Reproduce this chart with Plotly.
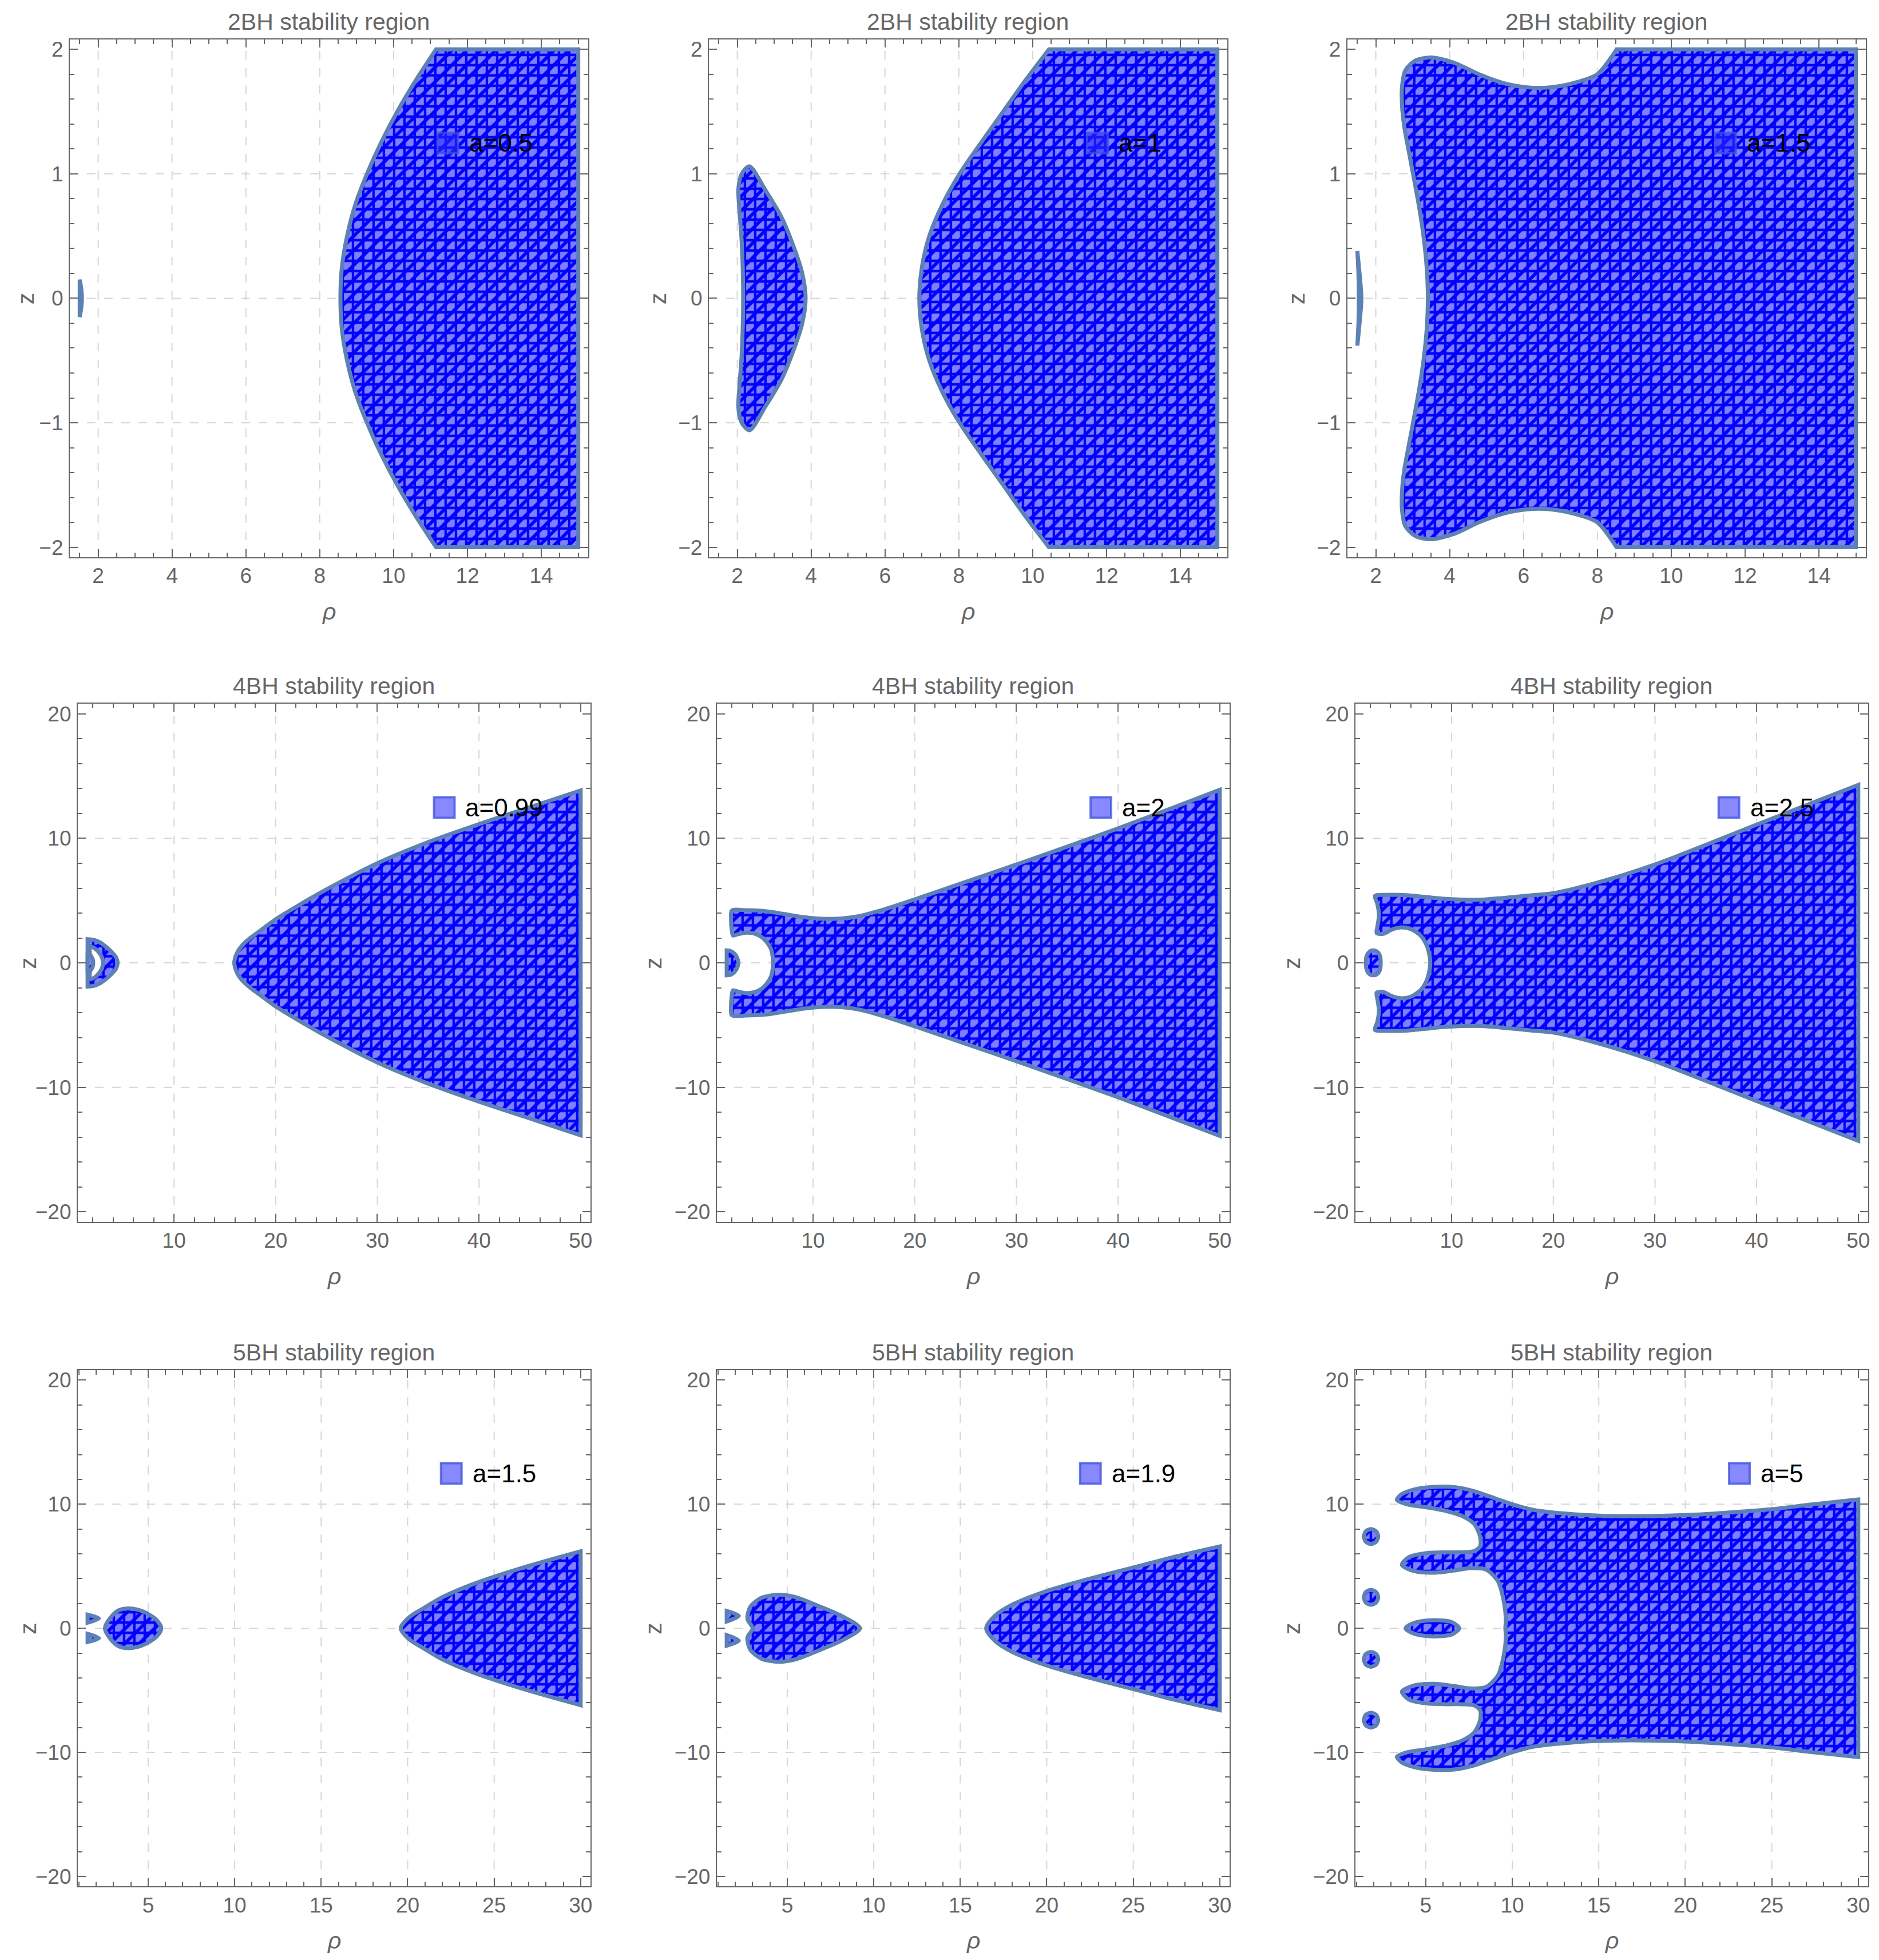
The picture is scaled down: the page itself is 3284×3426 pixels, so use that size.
import plotly.graph_objects as go

# ---------------- data (rho, z boundary points) ----------------
# Row 1 : 2BH
bh2_a05_sliver_rho = [1.50, 1.54, 1.56, 1.54, 1.50]
bh2_a05_sliver_z = [0.15, 0.08, 0.0, -0.08, -0.15]
bh2_a05_main_rho = [15, 11.15, 10.6, 10.1, 9.66, 9.28, 8.96, 8.74, 8.6, 8.56, 8.6, 8.74, 8.96, 9.28, 9.66, 10.1, 10.6, 11.15, 15]
bh2_a05_main_z = [2, 2, 1.75, 1.5, 1.25, 1.0, 0.75, 0.5, 0.25, 0.0, -0.25, -0.5, -0.75, -1.0, -1.25, -1.5, -1.75, -2, -2]

bh2_a1_bean_rho = [2.33, 2.76, 3.2, 3.52, 3.76, 3.85, 3.76, 3.52, 3.2, 2.76, 2.33, 2.12, 2.03, 2.06, 2.12, 2.16, 2.12, 2.06, 2.03, 2.12]
bh2_a1_bean_z = [1.06, 0.87, 0.65, 0.42, 0.2, 0.0, -0.2, -0.42, -0.65, -0.87, -1.06, -1.0, -0.88, -0.7, -0.45, 0.0, 0.45, 0.7, 0.88, 1.0]
bh2_a1_main_rho = [15, 10.44, 9.8, 9.2, 8.6, 8.02, 7.55, 7.2, 7.0, 6.93, 7.0, 7.2, 7.55, 8.02, 8.6, 9.2, 9.8, 10.44, 15]
bh2_a1_main_z = [2, 2, 1.75, 1.5, 1.25, 1.0, 0.75, 0.5, 0.25, 0.0, -0.25, -0.5, -0.75, -1.0, -1.25, -1.5, -1.75, -2, -2]

bh2_a15_sliver_rho = [1.50, 1.56, 1.61, 1.56, 1.50, 1.53, 1.54, 1.53]
bh2_a15_sliver_z = [0.38, 0.2, 0.0, -0.2, -0.38, -0.2, 0.0, 0.2]
bh2_a15_main_rho = [15, 8.52, 8.0, 7.36, 6.72, 6.1, 5.45, 4.79, 4.14, 3.5, 3.07, 2.8, 2.71, 2.71, 2.77, 2.9, 3.04, 3.18, 3.3, 3.38, 3.41,
                    3.38, 3.3, 3.18, 3.04, 2.9, 2.77, 2.71, 2.71, 2.8, 3.07, 3.5, 4.14, 4.79, 5.45, 6.1, 6.72, 7.36, 8.0, 8.52, 15]
bh2_a15_main_z = [2, 2, 1.8, 1.73, 1.695, 1.695, 1.73, 1.8, 1.89, 1.935, 1.91, 1.83, 1.7, 1.55, 1.38, 1.17, 0.95, 0.72, 0.48, 0.24, 0.0,
                  -0.24, -0.48, -0.72, -0.95, -1.17, -1.38, -1.55, -1.7, -1.83, -1.91, -1.935, -1.89, -1.8, -1.73, -1.695, -1.695, -1.73, -1.8, -2, -2]

# Row 2 : 4BH
bh4_a099_outer_rho = [1.5, 2.1, 2.7, 3.3, 3.9, 4.3, 4.45, 4.3, 3.9, 3.3, 2.7, 2.1, 1.5]
bh4_a099_outer_z = [1.9, 1.85, 1.65, 1.3, 0.85, 0.45, 0.0, -0.45, -0.85, -1.3, -1.65, -1.85, -1.9]
bh4_a099_hole_rho = [1.8, 2.3, 2.7, 2.95, 3.0, 2.95, 2.7, 2.3, 1.8, 1.75]
bh4_a099_hole_z = [1.3, 1.1, 0.75, 0.35, 0.0, -0.35, -0.75, -1.1, -1.3, 0.0]
bh4_a099_inner_rho = [1.5, 1.8, 2.0, 2.05, 2.0, 1.8, 1.5]
bh4_a099_inner_z = [0.8, 0.6, 0.3, 0.0, -0.3, -0.6, -0.8]
bh4_a099_main_rho = [15.93, 16.2, 16.7, 17.5, 18.5, 20, 22, 25, 30, 35, 40, 45, 50,
                     50, 45, 40, 35, 30, 25, 22, 20, 18.5, 17.5, 16.7, 16.2]
bh4_a099_main_z = [0.0, 0.8, 1.4, 2.0, 2.6, 3.5, 4.5, 5.9, 8.0, 9.7, 11.15, 12.5, 13.85,
                   -13.85, -12.5, -11.15, -9.7, -8.0, -5.9, -4.5, -3.5, -2.6, -2.0, -1.4, -0.8]

bh4_a2_small_rho = [1.5, 1.9, 2.25, 2.5, 2.65, 2.5, 2.25, 1.9, 1.5]
bh4_a2_small_z = [1.0, 0.95, 0.75, 0.45, 0.0, -0.45, -0.75, -0.95, -1.0]
bh4_a2_main_rho = [50, 40, 30, 25, 20, 17, 14.5, 12.8, 10.94, 9.06, 7.19, 5.31, 3.43, 2.0, 1.93, 2.0, 2.12, 2.68, 3.43, 4.18, 4.93, 5.5, 5.87, 6.02, 6.06,
                   6.02, 5.87, 5.5, 4.93, 4.18, 3.43, 2.68, 2.12, 2.0, 1.93, 2.0, 3.43, 5.31, 7.19, 9.06, 10.94, 12.8, 14.5, 17, 20, 25, 30, 40, 50]
bh4_a2_main_z = [13.9, 10.8, 7.9, 6.5, 5.1, 4.3, 3.75, 3.56, 3.54, 3.68, 3.92, 4.15, 4.23, 4.2, 3.5, 2.6, 2.2, 2.32, 2.43, 2.36, 2.08, 1.6, 1.08, 0.5, 0.0,
                 -0.5, -1.08, -1.6, -2.08, -2.36, -2.43, -2.32, -2.2, -2.6, -3.5, -4.2, -4.23, -4.15, -3.92, -3.68, -3.54, -3.56, -3.75, -4.3, -5.1, -6.5, -7.9, -10.8, -13.9]

bh4_a25_small_rho = [1.56, 1.62, 1.8, 2.05, 2.29, 2.55, 2.8, 2.97, 3.02, 2.97, 2.8, 2.55, 2.29, 2.05, 1.8, 1.62]
bh4_a25_small_z = [0.0, 0.5, 0.8, 0.97, 1.0, 0.96, 0.8, 0.5, 0.0, -0.5, -0.8, -0.96, -1.0, -0.97, -0.8, -0.5]
bh4_a25_main_rho = [50, 40, 30, 25, 20, 17.7, 14.9, 13.0, 11.13, 9.25, 7.37, 5.5, 3.62, 2.45, 2.68, 2.85, 2.7, 2.62, 3.25, 4.18, 5.1, 6.06, 6.99, 7.56, 7.84, 7.9,
                    7.84, 7.56, 6.99, 6.06, 5.1, 4.18, 3.25, 2.62, 2.7, 2.85, 2.68, 2.45, 3.62, 5.5, 7.37, 9.25, 11.13, 13.0, 14.9, 17.7, 20, 25, 30, 40, 50]
bh4_a25_main_z = [14.3, 11.1, 7.9, 6.6, 5.6, 5.42, 5.2, 5.08, 5.08, 5.15, 5.3, 5.44, 5.46, 5.38, 4.77, 3.85, 2.92, 2.4, 2.33, 2.69, 2.85, 2.69, 2.15, 1.38, 0.5, 0.0,
                  -0.5, -1.38, -2.15, -2.69, -2.85, -2.69, -2.33, -2.4, -2.92, -3.85, -4.77, -5.38, -5.46, -5.44, -5.3, -5.15, -5.08, -5.08, -5.2, -5.42, -5.6, -6.6, -7.9, -11.1, -14.3]

# Row 3 : 5BH
bh5_a15_tri_up_rho = [1.5, 2.15, 1.5]
bh5_a15_tri_up_z = [1.1, 0.8, 0.45]
bh5_a15_tri_dn_rho = [1.5, 2.15, 1.5]
bh5_a15_tri_dn_z = [-1.1, -0.8, -0.45]
bh5_a15_blob_rho = [2.5, 2.85, 3.3, 3.8, 4.4, 5.0, 5.5, 5.76, 5.5, 5.0, 4.4, 3.8, 3.3, 2.85]
bh5_a15_blob_z = [0.0, 0.9, 1.45, 1.6, 1.5, 1.15, 0.65, 0.0, -0.65, -1.15, -1.5, -1.6, -1.45, -0.9]
bh5_a15_main_rho = [19.6, 20.1, 20.9, 22, 23.86, 26.7, 30, 30, 26.7, 23.86, 22, 20.9, 20.1]
bh5_a15_main_z = [0.0, 0.9, 1.6, 2.5, 3.6, 4.9, 6.2, -6.2, -4.9, -3.6, -2.5, -1.6, -0.9]

bh5_a19_tri_up_rho = [1.5, 2.2, 1.5]
bh5_a19_tri_up_z = [1.4, 1.0, 0.55]
bh5_a19_tri_dn_rho = [1.5, 2.2, 1.5]
bh5_a19_tri_dn_z = [-1.4, -1.0, -0.55]
bh5_a19_blob_rho = [3.0, 2.7, 2.85, 3.5, 4.5, 5.5, 6.8, 8.2, 9.2, 8.2, 6.8, 5.5, 4.5, 3.5, 2.85, 2.7]
bh5_a19_blob_z = [0.0, 0.75, 1.7, 2.45, 2.7, 2.5, 1.8, 0.95, 0.0, -0.95, -1.8, -2.5, -2.7, -2.45, -1.7, -0.75]
bh5_a19_main_rho = [16.5, 17, 18, 20, 22.5, 25, 27.5, 30, 30, 27.5, 25, 22.5, 20, 18, 17]
bh5_a19_main_z = [0.0, 1.0, 1.9, 3.0, 4.0, 4.9, 5.8, 6.6, -6.6, -5.8, -4.9, -4.0, -3.0, -1.9, -1.0]

bh5_a5_dot1_rho = [1.41, 1.53, 1.83, 2.13, 2.25, 2.13, 1.83, 1.53]
bh5_a5_dot1_z = [7.4, 7.82, 8.0, 7.82, 7.4, 6.98, 6.8, 6.98]
bh5_a5_dot2_rho = [1.41, 1.53, 1.83, 2.13, 2.25, 2.13, 1.83, 1.53]
bh5_a5_dot2_z = [2.5, 2.92, 3.1, 2.92, 2.5, 2.08, 1.9, 2.08]
bh5_a5_dot3_rho = [1.41, 1.53, 1.83, 2.13, 2.25, 2.13, 1.83, 1.53]
bh5_a5_dot3_z = [-2.5, -2.08, -1.9, -2.08, -2.5, -2.92, -3.1, -2.92]
bh5_a5_dot4_rho = [1.41, 1.53, 1.83, 2.13, 2.25, 2.13, 1.83, 1.53]
bh5_a5_dot4_z = [-7.4, -6.98, -6.8, -6.98, -7.4, -7.82, -8.0, -7.82]
bh5_a5_lens_rho = [3.83, 4.3, 5.0, 5.8, 6.5, 6.93, 6.5, 5.8, 5.0, 4.3]
bh5_a5_lens_z = [0.0, 0.42, 0.62, 0.64, 0.5, 0.0, -0.5, -0.64, -0.62, -0.42]
bh5_a5_main_rho = [30, 27.3, 25.0, 22.7, 20.4, 18.1, 15.8, 13.5, 11.2, 10.1, 8.95, 7.8, 6.65, 5.5, 4.36, 3.6, 3.33, 3.9, 5.05, 6.19, 7.1, 7.8, 8.14, 8.14,
                   7.8, 7.1, 6.19, 5.05, 4.0, 3.62, 4.36, 5.5, 6.65, 7.57, 8.49, 9.17, 9.52, 9.63, 9.6,
                   9.63, 9.52, 9.17, 8.49, 7.57, 6.65, 5.5, 4.36, 3.62, 4.0, 5.05, 6.19, 7.1, 7.8,
                   8.14, 8.14, 7.8, 7.1, 6.19, 5.05, 3.9, 3.33, 3.6, 4.36, 5.5, 6.65, 7.8, 8.95, 10.1, 11.2, 13.5, 15.8, 18.1, 20.4, 22.7, 25.0, 27.3, 30]
bh5_a5_main_z = [10.38, 9.98, 9.6, 9.35, 9.15, 9.05, 9.05, 9.2, 9.55, 9.95, 10.5, 11.05, 11.38, 11.4, 11.2, 10.8, 10.35, 10.0, 9.75, 9.45, 9.05, 8.4, 7.4, 6.6,
                 6.22, 6.12, 6.12, 6.06, 5.72, 5.1, 4.6, 4.48, 4.66, 4.85, 4.73, 3.8, 2.1, 0.7, 0.0,
                 -0.7, -2.1, -3.8, -4.73, -4.85, -4.66, -4.48, -4.6, -5.1, -5.72, -6.06, -6.12, -6.12, -6.22,
                 -6.6, -7.4, -8.4, -9.05, -9.45, -9.75, -10.0, -10.35, -10.8, -11.2, -11.4, -11.38, -11.05, -10.5, -9.95, -9.55, -9.2, -9.05, -9.05, -9.15, -9.35, -9.6, -9.98, -10.38]

# titles / legend labels
titles = ["2BH stability region"] * 3 + ["4BH stability region"] * 3 + ["5BH stability region"] * 3
legend_labels = ["a=0.5", "a=1", "a=1.5", "a=0.99", "a=2", "a=2.5", "a=1.5", "a=1.9", "a=5"]

# data extents per row (rho_min, rho_max, z_min, z_max)
row_extent = [(1.5, 15, -2, 2), (1.5, 50, -20, 20), (1.5, 30, -20, 20)]
# ticks
row_xticks = [[2, 4, 6, 8, 10, 12, 14], [10, 20, 30, 40, 50], [5, 10, 15, 20, 25, 30]]
row_yticks = [[-2, -1, 0, 1, 2], [-20, -10, 0, 10, 20], [-20, -10, 0, 10, 20]]
row_xminor = [0.5, 2, 1]
row_yminor = [0.2, 2, 2]
row_xgrid = [[2, 4, 6, 8, 10, 12, 14], [10, 20, 30, 40], [5, 10, 15, 20, 25]]
row_ygrid = [[-1, 0, 1], [-10, 0, 10], [-10, 0, 10]]

panel_regions = [
    [("fill", bh2_a05_sliver_rho, bh2_a05_sliver_z), ("fill", bh2_a05_main_rho, bh2_a05_main_z)],
    [("fill", bh2_a1_bean_rho, bh2_a1_bean_z), ("fill", bh2_a1_main_rho, bh2_a1_main_z)],
    [("fill", bh2_a15_sliver_rho, bh2_a15_sliver_z), ("fill", bh2_a15_main_rho, bh2_a15_main_z)],
    [("fill", bh4_a099_outer_rho, bh4_a099_outer_z), ("hole", bh4_a099_hole_rho, bh4_a099_hole_z),
     ("fill", bh4_a099_inner_rho, bh4_a099_inner_z), ("fill", bh4_a099_main_rho, bh4_a099_main_z)],
    [("fill", bh4_a2_small_rho, bh4_a2_small_z), ("fill", bh4_a2_main_rho, bh4_a2_main_z)],
    [("fill", bh4_a25_small_rho, bh4_a25_small_z), ("fill", bh4_a25_main_rho, bh4_a25_main_z)],
    [("fill", bh5_a15_tri_up_rho, bh5_a15_tri_up_z), ("fill", bh5_a15_tri_dn_rho, bh5_a15_tri_dn_z),
     ("fill", bh5_a15_blob_rho, bh5_a15_blob_z), ("fill", bh5_a15_main_rho, bh5_a15_main_z)],
    [("fill", bh5_a19_tri_up_rho, bh5_a19_tri_up_z), ("fill", bh5_a19_tri_dn_rho, bh5_a19_tri_dn_z),
     ("fill", bh5_a19_blob_rho, bh5_a19_blob_z), ("fill", bh5_a19_main_rho, bh5_a19_main_z)],
    [("fill", bh5_a5_dot1_rho, bh5_a5_dot1_z), ("fill", bh5_a5_dot2_rho, bh5_a5_dot2_z),
     ("fill", bh5_a5_dot3_rho, bh5_a5_dot3_z), ("fill", bh5_a5_dot4_rho, bh5_a5_dot4_z),
     ("fill", bh5_a5_lens_rho, bh5_a5_lens_z), ("fill", bh5_a5_main_rho, bh5_a5_main_z)],
]

# ---------------- layout (pixels) ----------------
W, H = 3284, 3426
row_top = [66, 1230, 2397]
row_h = [907, 907, 904]
col_left = [[122, 1240, 2357], [136, 1254, 2371], [136, 1254, 2371]]
col_w = [907, 897, 897]
zlabel_off = [[76, 88, 88], [87, 111, 111], [87, 111, 111]]

FONT = "Liberation Sans, Arial, sans-serif"
GRAY = "#666666"
EDGE = "#5e81b5"

fig = go.Figure()
layout = dict(width=W, height=H, margin=dict(l=0, r=0, t=0, b=0),
              paper_bgcolor="white", plot_bgcolor="white", showlegend=False)
shapes = []
annotations = []

ARIAL_W = {"a": 0.556, "=": 0.584, ".": 0.278}


def text_width(s, size):
    return sum(ARIAL_W.get(c, 0.556) for c in s) * size


def prep(rho, z, rmin, rmax, zmax):
    """Close the outline; points on the plot-range edge are doubled so the spline keeps a sharp corner there."""
    xs, ys = [], []
    for a, b in zip(rho, z):
        n = 2 if (a <= rmin or a >= rmax or abs(b) >= zmax) else 1
        xs += [a] * n
        ys += [b] * n
    xs.append(rho[0])
    ys.append(z[0])
    return xs, ys


for p in range(9):
    r, c = divmod(p, 3)
    sfx = "" if p == 0 else str(p + 1)
    xa, ya = "x" + sfx, "y" + sfx
    xname, yname = "xaxis" + sfx, "yaxis" + sfx
    x0px = col_left[r][c]
    wpx = col_w[r]
    y0px = row_top[r]
    hpx = row_h[r]
    lo, hi, zlo, zhi = row_extent[r]
    padx = 0.02 * (hi - lo)
    pady = 0.02 * (zhi - zlo)
    xr = [lo - padx, hi + padx]
    yr = [zlo - pady, zhi + pady]

    common = dict(showline=True, linecolor=GRAY, linewidth=2, mirror="ticks", ticks="inside",
                  ticklen=14, tickwidth=2, tickcolor=GRAY, showgrid=False, zeroline=False,
                  tickfont=dict(family=FONT, size=37, color=GRAY), fixedrange=True)
    layout[xname] = dict(common, domain=[x0px / W, (x0px + wpx) / W], range=xr, anchor=ya,
                         tickmode="array", tickvals=row_xticks[r], ticklabelstandoff=-1,
                         minor=dict(ticks="inside", ticklen=8, tickwidth=2, tickcolor=GRAY,
                                    dtick=row_xminor[r], tick0=0, showgrid=False))
    layout[yname] = dict(common, domain=[1 - (y0px + hpx) / H, 1 - y0px / H], range=yr, anchor=xa,
                         tickmode="array", tickvals=row_yticks[r], ticklabelstandoff=2,
                         minor=dict(ticks="inside", ticklen=8, tickwidth=2, tickcolor=GRAY,
                                    dtick=row_yminor[r], tick0=0, showgrid=False))

    # dashed grid lines
    for gx in row_xgrid[r]:
        shapes.append(dict(type="line", xref=xa, yref=ya + " domain", x0=gx, x1=gx, y0=0, y1=1,
                           line=dict(color="#d6d6d6", width=2, dash="15px,15px"), layer="below"))
    for gy in row_ygrid[r]:
        shapes.append(dict(type="line", xref=xa + " domain", yref=ya, x0=0, x1=1, y0=gy, y1=gy,
                           line=dict(color="#d6d6d6", width=2, dash="15px,15px"), layer="below"))

    # regions
    for kind, rho, z in panel_regions[p]:
        xs, ys = prep(rho, z, lo, hi, zhi)
        spl = dict(shape="spline", smoothing=0.8, simplify=False)
        if kind == "fill":
            fig.add_trace(go.Scatter(x=xs, y=ys, xaxis=xa, yaxis=ya, mode="lines", fill="toself",
                                     fillcolor="#7f7fff", line=dict(spl, width=0, color="#0000ff"),
                                     fillpattern=dict(shape="+", size=18, solidity=0.42,
                                                      fgcolor="#0000ff", bgcolor="#7f7fff",
                                                      fillmode="replace"),
                                     hoverinfo="skip"))
            fig.add_trace(go.Scatter(x=xs, y=ys, xaxis=xa, yaxis=ya, mode="lines", fill="toself",
                                     fillcolor="rgba(0,0,0,0)", line=dict(spl, width=0, color="#0000ff"),
                                     fillpattern=dict(shape="/", size=18, solidity=0.32,
                                                      fgcolor="#0000ff", bgcolor="rgba(0,0,0,0)",
                                                      fillmode="replace"),
                                     hoverinfo="skip"))
        else:
            fig.add_trace(go.Scatter(x=xs, y=ys, xaxis=xa, yaxis=ya, mode="lines", fill="toself",
                                     fillcolor="white", line=dict(spl, width=0), hoverinfo="skip"))
        fig.add_trace(go.Scatter(x=xs, y=ys, xaxis=xa, yaxis=ya, mode="lines",
                                 line=dict(spl, width=7, color=EDGE), hoverinfo="skip"))

    # title
    annotations.append(dict(text=titles[p], xref=xa + " domain", yref=ya + " domain", x=0.5, y=1,
                            xanchor="center", yanchor="middle", yshift=31, showarrow=False,
                            font=dict(family=FONT, size=41, color=GRAY)))
    # axis labels
    annotations.append(dict(text="<i>ρ</i>", xref=xa + " domain", yref=ya + " domain", x=0.5, y=0,
                            xanchor="center", yanchor="middle", yshift=-95, showarrow=False,
                            font=dict(family=FONT, size=41, color=GRAY)))
    annotations.append(dict(text="z", xref=xa + " domain", yref=ya + " domain", x=0, y=0.5,
                            xanchor="center", yanchor="middle", xshift=-zlabel_off[r][c],
                            textangle=-90, showarrow=False,
                            font=dict(family=FONT, size=41, color=GRAY)))

    # legend (centered at 80%, 80% of the frame)
    lab = legend_labels[p]
    sw, gap, fs = 36, 17, 44
    total = sw + gap + text_width(lab, fs)
    left_px = 0.8 * wpx - total / 2
    shapes.append(dict(type="rect", xref=xa + " domain", yref=ya + " domain",
                       x0=left_px / wpx, x1=(left_px + sw) / wpx,
                       y0=0.8 - sw / 2 / hpx, y1=0.8 + sw / 2 / hpx,
                       fillcolor="rgba(40,40,255,0.55)", line=dict(color="rgba(60,80,220,0.75)", width=4),
                       layer="above"))
    annotations.append(dict(text=lab, xref=xa + " domain", yref=ya + " domain",
                            x=(left_px + sw + gap) / wpx, y=0.8, xanchor="left", yanchor="middle",
                            showarrow=False, font=dict(family=FONT, size=fs, color="black")))

layout["shapes"] = shapes
layout["annotations"] = annotations
fig.update_layout(**layout)
fig.write_html("out.html", config={"displayModeBar": False, "staticPlot": True},
               post_script="document.body.style.margin='0';document.body.style.overflow='hidden';")
